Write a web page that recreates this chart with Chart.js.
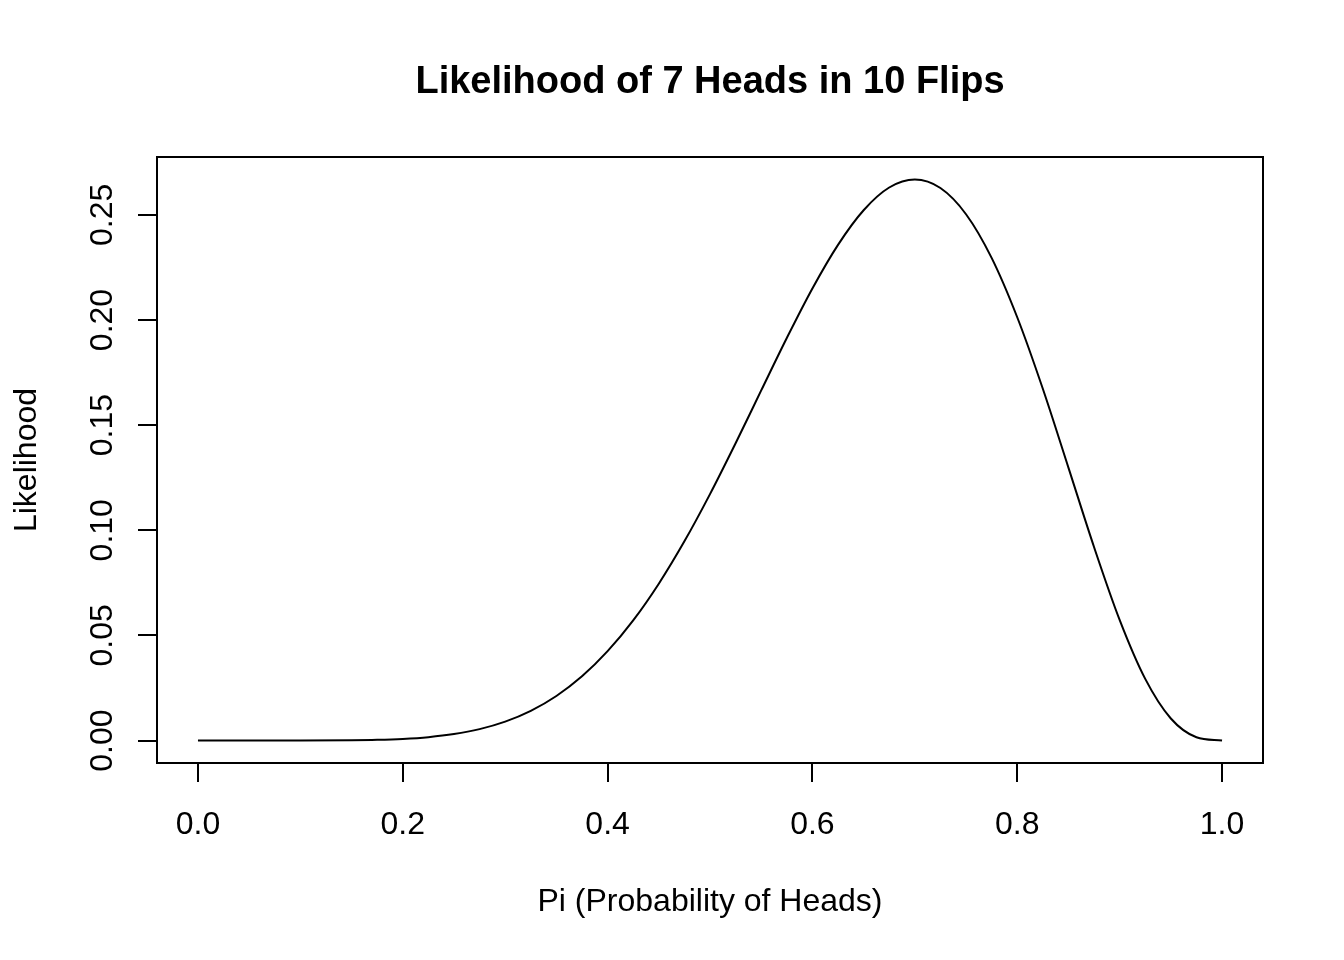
<!DOCTYPE html>
<html lang="en">
<head>
  <meta charset="UTF-8" />
  <title>Likelihood of 7 Heads in 10 Flips</title>
  <script src="https://cdn.jsdelivr.net/npm/chart.js"></script>
  <style>
    body { margin: 0; background: #ffffff; }
    canvas { display: block; }
  </style>
</head>
<body>
  <canvas id="likelihoodChart" width="1344" height="960" style="width:1344px;height:960px"></canvas>

  <script>
    // values
    const piValues = [0, 0.05, 0.1, 0.15, 0.175, 0.2, 0.225, 0.25, 0.275, 0.3, 0.325, 0.35, 0.375,
                      0.4, 0.425, 0.45, 0.475, 0.5, 0.525, 0.55, 0.575, 0.6, 0.625, 0.65, 0.675,
                      0.7, 0.725, 0.75, 0.775, 0.8, 0.825, 0.85, 0.875, 0.9, 0.925, 0.95, 0.975, 1.0];
    const likelihood = [0, 0, 0.00001, 0.00013, 0.00034, 0.00079, 0.00163, 0.00309, 0.00544, 0.0090, 0.01413, 0.0212, 0.03055,
                        0.0425, 0.05714, 0.0746, 0.09474, 0.1172, 0.14138, 0.1665, 0.19144, 0.2150, 0.23574, 0.2522, 0.26300,
                        0.2668, 0.26275, 0.2503, 0.22953, 0.2013, 0.16729, 0.1298, 0.09204, 0.0574, 0.02933, 0.0105, 0.00157, 0];
    const xTicks = [0, 0.2, 0.4, 0.6, 0.8, 1.0];
    const yTicks = [0, 0.05, 0.10, 0.15, 0.20, 0.25];

    const FONT = '"Liberation Sans", Arial, Helvetica, sans-serif';

    // R-style frame, ticks and labels
    const baseFrame = {
      id: 'baseFrame',
      afterDraw(chart) {
        const { ctx, chartArea: a, scales: { x, y } } = chart;
        ctx.save();
        ctx.strokeStyle = '#000';
        ctx.fillStyle = '#000';
        ctx.lineWidth = 2;
        ctx.strokeRect(a.left, a.top, a.right - a.left, a.bottom - a.top);

        ctx.beginPath();
        xTicks.forEach(v => {
          const px = Math.round(x.getPixelForValue(v));
          ctx.moveTo(px, a.bottom);
          ctx.lineTo(px, a.bottom + 19);
        });
        yTicks.forEach(v => {
          const py = Math.round(y.getPixelForValue(v));
          ctx.moveTo(a.left, py);
          ctx.lineTo(a.left - 19, py);
        });
        ctx.stroke();

        ctx.font = '32px ' + FONT;
        ctx.textAlign = 'center';
        ctx.textBaseline = 'alphabetic';
        xTicks.forEach(v => {
          ctx.fillText(v.toFixed(1), x.getPixelForValue(v), a.bottom + 71);
        });
        yTicks.forEach(v => {
          ctx.save();
          ctx.translate(a.left - 45, y.getPixelForValue(v));
          ctx.rotate(-Math.PI / 2);
          ctx.fillText(v.toFixed(2), 0, 0);
          ctx.restore();
        });

        const midX = (a.left + a.right) / 2;
        const midY = (a.top + a.bottom) / 2;
        ctx.fillText('Pi (Probability of Heads)', midX, 911);
        ctx.save();
        ctx.translate(36, midY);
        ctx.rotate(-Math.PI / 2);
        ctx.fillText('Likelihood', 0, 0);
        ctx.restore();

        ctx.font = 'bold 38px ' + FONT;
        ctx.fillText('Likelihood of 7 Heads in 10 Flips', midX, 93);
        ctx.restore();
      }
    };

    new Chart(document.getElementById('likelihoodChart'), {
      type: 'line',
      data: {
        datasets: [{
          data: piValues.map((p, i) => ({ x: p, y: likelihood[i] })),
          borderColor: '#000',
          borderWidth: 2,
          pointRadius: 0,
          fill: false,
          cubicInterpolationMode: 'monotone'
        }]
      },
      options: {
        responsive: false,
        animation: false,
        devicePixelRatio: 1,
        layout: { padding: { left: 157, top: 157, right: 81, bottom: 197 } },
        plugins: { legend: { display: false }, tooltip: { enabled: false } },
        scales: {
          x: { type: 'linear', min: -0.04, max: 1.04, display: false },
          y: { type: 'linear', min: -0.01067, max: 0.27751, display: false }
        }
      },
      plugins: [baseFrame]
    });
  </script>
</body>
</html>
